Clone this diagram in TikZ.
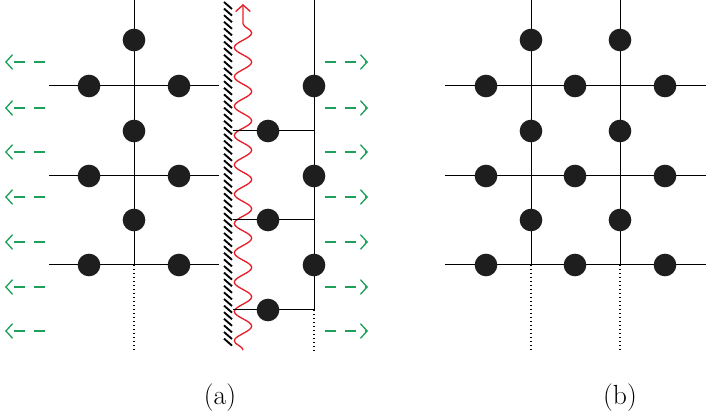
\documentclass[tikz,border=0pt]{standalone}
\usetikzlibrary{arrows.meta,decorations.pathmorphing}
\definecolor{wavered}{RGB}{230,30,40}
\definecolor{fluxgreen}{RGB}{30,160,90}
\tikzset{every picture/.style={line width=0.75pt}}
\tikzset{atom/.style={circle,fill={rgb,255:red,30;green,30;blue,30},inner sep=0pt,minimum size=17pt},
  flux/.style={fluxgreen,line width=1pt,dash pattern=on 8pt off 7pt,-{Straight Barb[length=5pt,width=11pt]}}}
\begin{document}
\begin{tikzpicture}[x=0.75pt,y=0.75pt,yscale=-1,xscale=1]
\useasboundingbox (0,0) rectangle (706,416);
%Lattice (a), left block
\draw (134,0) -- (134,265);
\draw [dotted,line width=1pt] (134,265) -- (134,352);
\foreach \y in {86,176,265} \draw (49,\y) -- (219,\y);
\foreach \y in {40,131,220} \node[atom] (l\y) at (134,\y) {};
\foreach \y in {86,176,265} {\node[atom] (la\y) at (89,\y) {}; \node[atom] (lb\y) at (179,\y) {};}
%Wall
\foreach \y in {2,8.6,...,344} \draw [line width=1.4pt] (224,\y) -- (232,\y+7);
%Wave
\draw [wavered,line width=1pt,decorate,decoration={snake,amplitude=6.5pt,segment length=22pt,post length=6pt},-{Straight Barb[length=5pt,width=11pt]}] (243,350) -- (243,4);
%Lattice (a), right block
\draw (314,0) -- (314,310);
\draw [dotted,line width=1pt] (314,310) -- (314,352);
\foreach \y in {131,220,310} {\draw (233,\y) -- (314,\y); \node[atom] (rb\y) at (268,\y) {};}
\foreach \y in {86,176,265} \node[atom] (ra\y) at (314,\y) {};
%Flux arrows
\foreach \y in {62,108,152,197,242,287,331} {
  \draw [flux] (45,\y) -- (5,\y);
  \draw [flux] (325,\y) -- (368,\y);}
%Lattice (b)
\foreach \x in {531,620} {\draw (\x,0) -- (\x,265); \draw [dotted,line width=1pt] (\x,265) -- (\x,352);
  \foreach \y in {40,131,220} \node[atom] (b\x\y) at (\x,\y) {};}
\foreach \y in {86,176,265} {\draw (445,\y) -- (706,\y);
  \foreach \x in {486,575,665} \node[atom] (c\x\y) at (\x,\y) {};}
\draw (220,398) node [font=\huge] (capa) {(a)};
\draw (620,398) node [font=\huge] (capb) {(b)};
\end{tikzpicture}
\end{document}
